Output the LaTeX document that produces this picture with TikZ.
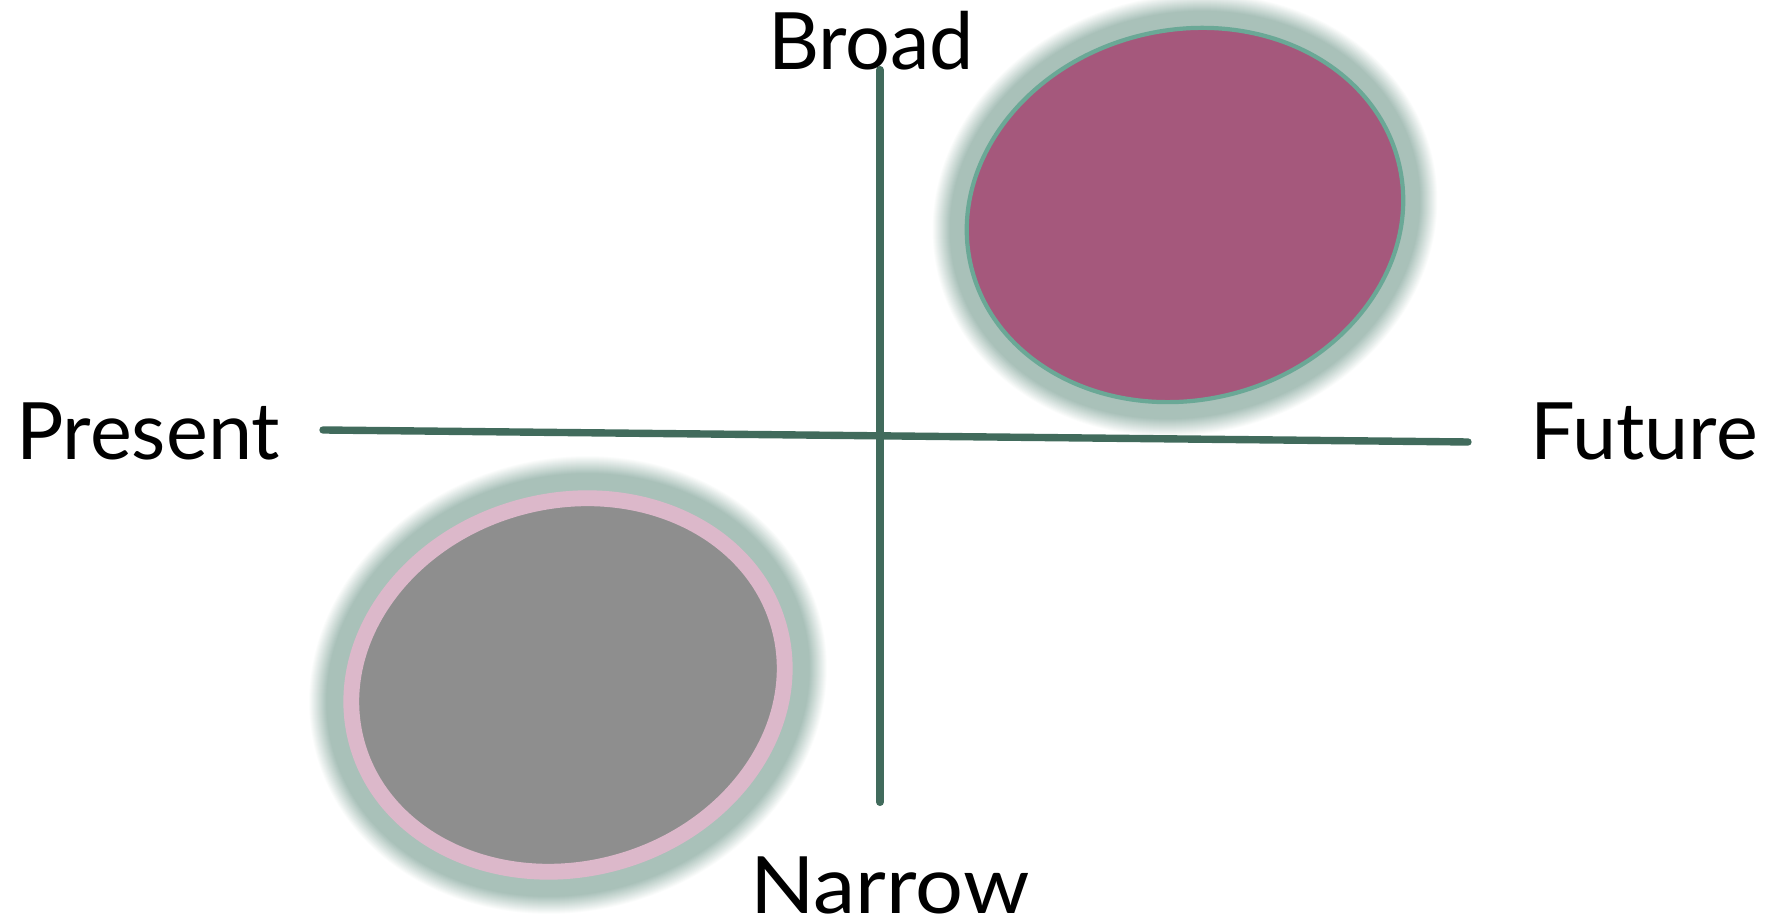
\documentclass[tikz,border=0pt]{standalone}
\usepackage{fontspec}
\setmainfont{Lato}
\usepackage{xcolor}
\usepackage{tikz}
\usetikzlibrary{positioning}
\definecolor{AxisGreen}{HTML}{416B5C}
\definecolor{GlowGreen}{HTML}{A9C1B9}
\definecolor{RimTeal}{HTML}{6AA896}
\definecolor{BlobPlum}{HTML}{A5587C}
\definecolor{BlobGrey}{HTML}{8E8E8E}
\definecolor{RimPink}{HTML}{DCB8CA}
\tikzset{
  axisline/.style={line width=2.1pt, draw=AxisGreen, line cap=round},
  axislabel/.style={font=\fontsize{22.5}{26}\selectfont, anchor=base, inner sep=0pt}
}

\begin{document}
\begin{tikzpicture}[x=0.01cm, y=0.01cm]
\useasboundingbox (0,0) rectangle (1768,924);

% Soft halo behind each blob: outer rings fade into white
\foreach \d in {35,34,...,0}{
  \pgfmathsetmacro{\p}{min(100,(35-\d)*100/18)}
  \fill[GlowGreen!\p!white, rotate around={13.6:(1185,709)}]
    (1185,709) ellipse ({220+\d} and {185+\d});
  \fill[GlowGreen!\p!white, rotate around={15.5:(568,239)}]
    (568,239) ellipse ({227+\d} and {192+\d});
}

% Upper blob (broad / future)
\filldraw[fill=BlobPlum, draw=RimTeal, line width=1.2pt, rotate around={13.6:(1185,709)}]
  (1185,709) ellipse (220 and 185);

% Lower blob (narrow / present)
\filldraw[fill=BlobGrey, draw=RimPink, line width=4.5pt, rotate around={15.5:(568,239)}]
  (568,239) ellipse (219 and 184);

% Axis end points
\coordinate (westend) at (323,494);
\coordinate (eastend) at (1468,482);
\coordinate (northend) at (880,854);
\coordinate (southend) at (880,122);

\draw[axisline] (westend) -- (eastend);
\draw[axisline, line width=2.3pt] (northend) -- (southend);

% Pole labels
\node[axislabel] (broad) at (871,854) {Broad};
\node[axislabel, xscale=1.07] (narrow) at (890,10) {Narrow};
\node[axislabel] (present) at (148,464) {Present};
\node[axislabel] (future) at (1644,464) {Future};
\end{tikzpicture}
\end{document}
